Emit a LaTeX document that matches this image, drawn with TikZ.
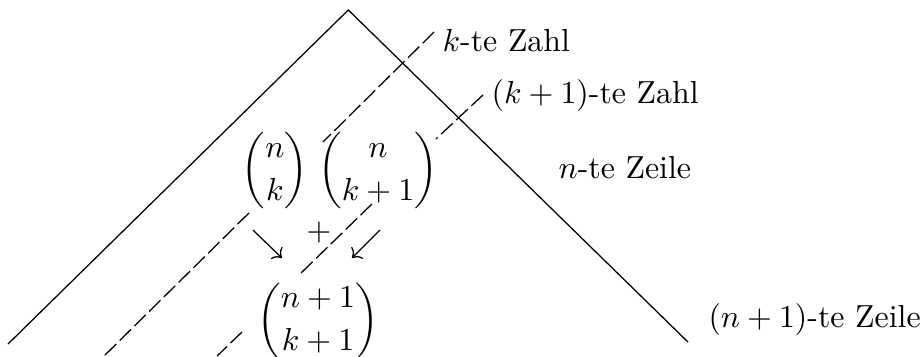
\documentclass[tikz,border=0pt]{standalone}
\usepackage{amsmath}
\usepackage{tikz}
\usetikzlibrary{arrows.meta, calc, positioning}

\begin{document}
\begin{tikzpicture}[
  rowline/.style={line width=0.4pt},
  guide/.style={line width=0.4pt, dash pattern=on 5pt off 1.5pt},
  entry/.style={inner sep=0pt},
  lbl/.style={inner sep=0pt, anchor=base west},
  sumarrow/.style={->, line width=0.4pt}
]
\useasboundingbox (0,0) rectangle (10.143,3.925);

% ============================================================
% The two edges of the triangle.
\coordinate (apex)  at (3.840, 3.815);
\coordinate (leftE) at (0.088, 0.132);
\coordinate (rightE) at (7.585, 0.154);
\draw[rowline] (leftE) -- (apex) -- (rightE);

% ============================================================
% Binomial coefficients of row n and row n+1.
\node[entry] (nk)   at (3.032, 2.040) {$\dbinom{n}{k}$};
\node[entry] (nk1)  at (4.168, 2.040) {$\dbinom{n}{k+1}$};
\node[entry] (n1k1) at (3.506, 0.385) {$\dbinom{n+1}{k+1}$};
\node[entry] (plus) at (3.517, 1.356) {$+$};

% Arrows down to the sum
\coordinate (arrL1) at (2.789, 1.389);
\coordinate (arrL2) at (3.109, 1.080);
\coordinate (arrR1) at (4.190, 1.389);
\coordinate (arrR2) at (3.881, 1.080);
\draw[sumarrow] (arrL1) -- (arrL2);
\draw[sumarrow] (arrR1) -- (arrR2);

% ============================================================
% Labels on the right.
\node[lbl] (kZahl)  at (4.873, 3.352) {$k$-te Zahl};
\node[lbl] (k1Zahl) at (5.413, 2.789) {$(k+1)$-te Zahl};
\node[lbl] (nZeile) at (6.152, 1.962) {$n$-te Zeile};
\node[lbl] (n1Zeile) at (7.805, 0.309) {$(n+1)$-te Zeile};

% ============================================================
% Dashed diagonals for the k-th and (k+1)-th number.
\coordinate (dA1) at (4.785, 3.572);
\coordinate (dA2) at (3.561, 2.359);
\coordinate (dA3) at (2.745, 1.577);
\coordinate (dA4) at (1.147, 0.000);
\draw[guide] (dA1) -- (dA2);
\draw[guide] (dA3) -- (dA4);

\coordinate (dB1) at (5.325, 2.878);
\coordinate (dB2) at (4.807, 2.393);
\coordinate (dB3) at (4.101, 1.676);
\coordinate (dB4) at (3.319, 0.915);
\coordinate (dB5) at (2.668, 0.265);
\coordinate (dB6) at (2.393, 0.000);
\draw[guide] (dB1) -- (dB2);
\draw[guide] (dB3) -- (dB4);
\draw[guide] (dB5) -- (dB6);

\end{tikzpicture}
\end{document}
